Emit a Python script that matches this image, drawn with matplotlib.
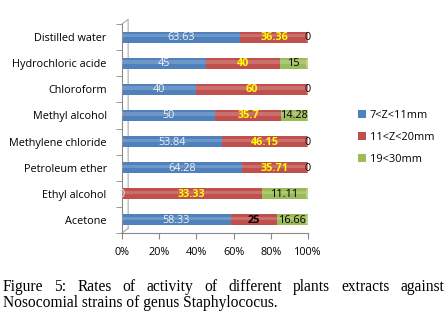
import matplotlib.pyplot as plt
from matplotlib.patches import Ellipse
import numpy as np

extracts = ['Acetone', 'Ethyl alcohol', 'Petroleum ether', 'Methylene chloride',
            'Methyl alcohol', 'Chloroform', 'Hydrochloric acide', 'Distilled water']
low = [58.33, 0, 64.28, 53.84, 50, 40, 45, 63.63]
mid = [25, 33.33, 35.71, 46.15, 35.7, 60, 40, 36.36]
high = [16.66, 11.11, 0, 0, 14.28, 0, 15, 0]
series_names = ['7<Z<11mm', '11<Z<20mm', '19<30mm']
xticks = [0, 20, 40, 60, 80, 100]

colors = ['#4F81BD', '#C0504D', '#9BBB59']
cap_colors = ['#7FA3D0', '#D98683', '#BCD48E']
label_colors = ['#F2F2F2', '#FFFF00', 'black']
label_weight = ['normal', 'bold', 'normal']

raw = np.array([low, mid, high], dtype=float)
shares = raw / raw.sum(axis=0) * 100

fig = plt.figure(figsize=(4.47, 3.31), dpi=100)
ax = fig.add_axes([122 / 447, 1 - 233 / 331, 186 / 447, 209 / 331])

y = np.arange(len(extracts))
h = 0.42
left = np.zeros(len(extracts))
handles = []
for k in range(3):
    b = ax.barh(y, shares[k], h, left=left, color=colors[k], edgecolor='none', zorder=2)
    handles.append(b)
    # lighter band on top of each segment for a rounded look
    ax.barh(y + h * 0.12, shares[k], h * 0.3, left=left, color='white', alpha=0.18,
            edgecolor='none', zorder=3)
    left = left + shares[k]

# rounded ends of the cylinders
for i in range(len(extracts)):
    first = [k for k in range(3) if shares[k][i] > 0][0]
    last = [k for k in range(3) if shares[k][i] > 0][-1]
    ax.add_patch(Ellipse((0, y[i]), 2.4, h, color=colors[first], zorder=1.9, lw=0))
    ax.add_patch(Ellipse((100, y[i]), 2.4, h, color=cap_colors[last], zorder=3.5, lw=0))

left = np.zeros(len(extracts))
for k in range(3):
    for i in range(len(extracts)):
        cx = left[i] + shares[k][i] / 2
        c = label_colors[k]
        if k == 1 and extracts[i] == 'Acetone':
            c = 'black'
        ax.text(cx, y[i] - 0.02, '%g' % raw[k][i], ha='center', va='center', fontsize=7.8,
                color=c, fontweight=label_weight[k], family='Open Sans', zorder=4)
    left = left + shares[k]

ax.set_xlim(0, 100)
ax.set_ylim(-0.5, len(extracts) - 0.5)
ax.set_xticks(xticks)
ax.set_xticklabels(['%d%%' % t for t in xticks], fontsize=7.8, family='Open Sans')
ax.set_yticks(y)
ax.set_yticklabels(extracts, fontsize=7.8, family='Open Sans')
ax.set_yticks(np.arange(-0.5, len(extracts), 1), minor=True)
ax.tick_params(axis='y', which='major', length=0, pad=11)
ax.tick_params(axis='y', which='minor', length=4, color='#888888')
ax.tick_params(axis='x', length=4, color='#888888', pad=6)
for s in ['top', 'right']:
    ax.spines[s].set_visible(False)
for s in ['left', 'bottom']:
    ax.spines[s].set_color('#888888')
    ax.spines[s].set_linewidth(0.8)

# back wall edge of the 3d frame
dx, dy = 0.033, 0.022
ax.plot([0, dx, dx], [1, 1 + dy, dy], transform=ax.transAxes, color='#AAAAAA',
        lw=0.8, clip_on=False, zorder=1)
ax.plot([0, dx], [0, dy], transform=ax.transAxes, color='#AAAAAA',
        lw=0.8, clip_on=False, zorder=1)

fig.legend(handles, series_names, loc='upper left', bbox_to_anchor=(348 / 447, 1 - 100 / 331),
           frameon=False, handlelength=0.7, handleheight=0.7,
           handletextpad=0.4, labelspacing=1.0, prop={'family': 'Open Sans', 'size': 7.9})

# caption, first line justified to the full width
fig.canvas.draw()
r = fig.canvas.get_renderer()
words = ['Figure', '5:', 'Rates', 'of', 'activity', 'of', 'different', 'plants',
         'extracts', 'against']
objs = []
for wd in words:
    t = fig.text(0, 1 - 291 / 331, wd, fontsize=11.2, family='Liberation Serif',
                 va='baseline')
    objs.append(t)
widths = [t.get_window_extent(r).width for t in objs]
x0, x1 = 3, 444
gap = (x1 - x0 - sum(widths)) / (len(words) - 1)
x = x0
for t, wdt in zip(objs, widths):
    t.set_x(x / 447)
    x += wdt + gap
fig.text(3 / 447, 1 - 307 / 331, 'Nosocomial strains of genus Staphylococus.',
         fontsize=11.2, family='Liberation Serif', va='baseline')

fig.savefig('out.png', dpi=100)
